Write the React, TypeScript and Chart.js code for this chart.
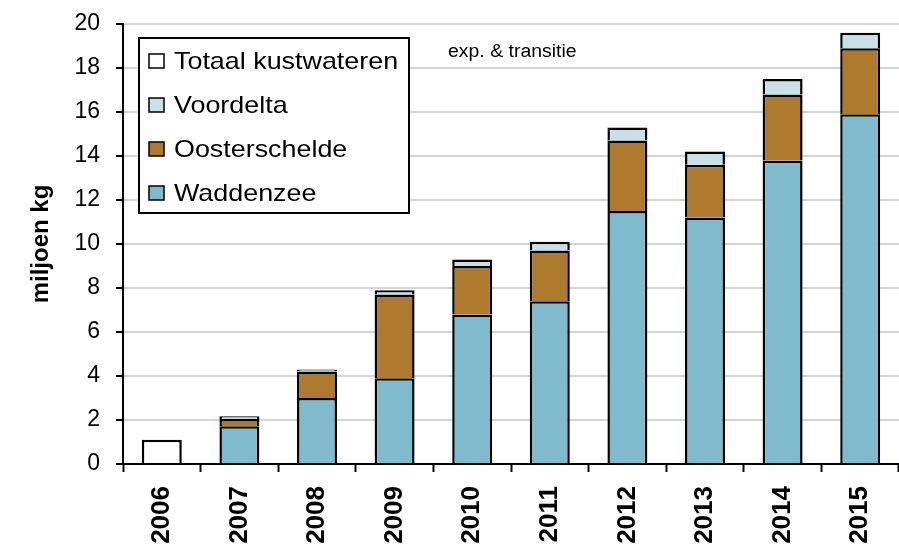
import React, { useEffect, useRef } from "react";
import { Chart, registerables } from "chart.js";

Chart.register(...registerables);

const years = ["2006", "2007", "2008", "2009", "2010", "2011", "2012", "2013", "2014", "2015"];
const waddenzee = [null, 1.72, 3.0, 3.9, 6.8, 7.4, 11.5, 11.2, 13.8, 15.9];
const oosterschelde = [null, 0.33, 1.2, 3.8, 2.2, 2.3, 3.2, 2.4, 3.0, 3.0];
const voordelta = [null, 0.12, 0.1, 0.2, 0.3, 0.4, 0.6, 0.6, 0.7, 0.7];
const totaalKustwateren = [1.1, null, null, null, null, null, null, null, null, null];
const yTitle = "miljoen kg";
const note = "exp. & transitie";

const FONT = "'Liberation Sans', Arial, sans-serif";

function stretchedText(ctx: any, text: string, x: number, y: number, sx: number) {
  ctx.save();
  ctx.translate(x, y);
  ctx.scale(sx, 1);
  ctx.fillText(text, 0, 0);
  ctx.restore();
}

const legendPlugin = {
  id: "boxLegend",
  afterDraw(chart: any) {
    const ctx = chart.ctx;
    ctx.save();
    ctx.font = `18px ${FONT}`;
    ctx.fillStyle = "#000";
    ctx.textBaseline = "middle";
    ctx.textAlign = "left";
    stretchedText(ctx, note, 448, 52, 1.08);
    const bx = 139, by = 38, bw = 270, bh = 175;
    ctx.fillStyle = "#fff";
    ctx.fillRect(bx, by, bw, bh);
    ctx.strokeStyle = "#000";
    ctx.lineWidth = 2;
    ctx.strokeRect(bx, by, bw, bh);
    const ds = [...chart.data.datasets].reverse();
    ds.forEach((d: any, i: number) => {
      const cy = 61 + i * 44;
      ctx.fillStyle = d.backgroundColor;
      ctx.fillRect(149, cy - 7, 15, 14);
      ctx.lineWidth = 1.5;
      ctx.strokeStyle = "#000";
      ctx.strokeRect(149, cy - 7, 15, 14);
      ctx.fillStyle = "#000";
      ctx.font = `24px ${FONT}`;
      ctx.textBaseline = "middle";
      stretchedText(ctx, d.label, 174, cy + 1, 1.12);
    });
    ctx.restore();
  },
};

export default function App() {
  const ref = useRef<HTMLCanvasElement>(null);
  useEffect(() => {
    document.body.style.margin = "0";
    const common = {
      borderColor: "#000",
      borderWidth: 2.5,
      borderSkipped: "start",
      barPercentage: 0.515,
      categoryPercentage: 1,
      stack: "s",
    };
    const chart = new Chart(ref.current!, {
      type: "bar",
      data: {
        labels: years,
        datasets: [
          { label: "Waddenzee", data: waddenzee, backgroundColor: "#80bbcd", ...common },
          { label: "Oosterschelde", data: oosterschelde, backgroundColor: "#ae7a2d", ...common },
          { label: "Voordelta", data: voordelta, backgroundColor: "#c8e1e9", ...common },
          { label: "Totaal kustwateren", data: totaalKustwateren, backgroundColor: "#ffffff", ...common },
        ] as any,
      },
      options: {
        animation: false,
        responsive: false,
        maintainAspectRatio: false,
        layout: { padding: { top: 24, right: 0, left: 0, bottom: 0 } },
        plugins: { legend: { display: false }, tooltip: { enabled: false } },
        scales: {
          x: {
            stacked: true,
            offset: true,
            grid: {
              offset: true,
              drawOnChartArea: false,
              drawTicks: true,
              tickLength: 8,
              tickColor: "#000",
              tickWidth: 2,
            },
            border: { display: true, color: "#000", width: 2 },
            ticks: {
              autoSkip: false,
              minRotation: 90,
              maxRotation: 90,
              padding: 14,
              color: "#000",
              font: { family: FONT, size: 26, weight: "bold" },
            },
            afterFit: (s: any) => {
              s.height = 85;
              s.paddingLeft = 0;
              s.paddingRight = 0;
            },
          },
          y: {
            stacked: true,
            min: 0,
            max: 20,
            ticks: {
              stepSize: 2,
              padding: 16,
              color: "#000",
              font: { family: FONT, size: 23 },
            },
            grid: {
              color: "#d4d4d4",
              lineWidth: 2,
              tickLength: 7,
              tickColor: "#000",
              tickWidth: 2,
            },
            border: { display: true, color: "#000", width: 2 },
            title: {
              display: true,
              text: yTitle,
              color: "#000",
              font: { family: FONT, size: 24, weight: "bold" },
              padding: { top: 27, bottom: 0 },
            },
            afterFit: (s: any) => {
              s.width = 123;
              s.paddingTop = 0;
              s.paddingBottom = 0;
            },
          },
        },
      },
      plugins: [legendPlugin],
    } as any);
    return () => chart.destroy();
  }, []);
  return <canvas ref={ref} width={899} height={549} style={{ display: "block" }} />;
}
